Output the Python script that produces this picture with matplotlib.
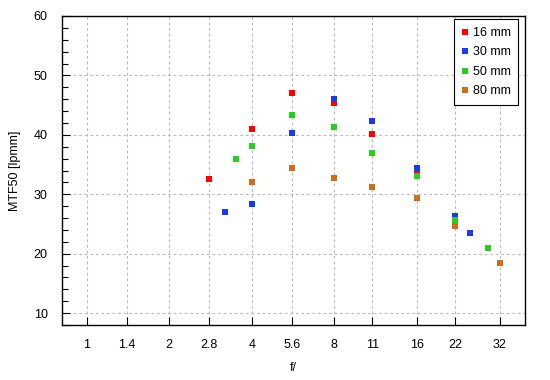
import numpy as np
import matplotlib.pyplot as plt
from matplotlib.ticker import FixedLocator, MultipleLocator, NullLocator

plt.rcParams['font.family'] = ['Liberation Sans', 'DejaVu Sans']

# aperture (f-number) and MTF50 values per focal length
f_16 = [2.8, 4, 5.6, 8, 11, 16]
mtf_16 = [32.5, 40.9, 47.0, 45.3, 40.1, 33.7]

f_30 = [3.2, 4, 5.6, 8, 11, 16, 22, 25]
mtf_30 = [27.1, 28.3, 40.3, 46.0, 42.3, 34.5, 26.3, 23.4]

f_50 = [3.5, 4, 5.6, 8, 11, 16, 22, 29]
mtf_50 = [36.0, 38.2, 43.3, 41.3, 36.9, 33.0, 25.7, 20.9]

f_80 = [4, 5.6, 8, 11, 16, 22, 32]
mtf_80 = [32.0, 34.4, 32.7, 31.3, 29.3, 24.6, 18.5]

tick_vals = [1, 1.4, 2, 2.8, 4, 5.6, 8, 11, 16, 22, 32]
tick_labels = ['1', '1.4', '2', '2.8', '4', '5.6', '8', '11', '16', '22', '32']

series = [
    (f_16, mtf_16, '#ff0000', '16 mm'),
    (f_30, mtf_30, '#1a3ce6', '30 mm'),
    (f_50, mtf_50, '#29cc1f', '50 mm'),
    (f_80, mtf_80, '#cc6e1f', '80 mm'),
]

fig = plt.figure(figsize=(5.5, 3.8), dpi=100)
ax = fig.add_axes([61.5 / 550, 1 - 325 / 380, (525 - 61.5) / 550, (325 - 16) / 380])

for fx, my, col, lab in series:
    ax.plot(fx, my, 's', color=col, markersize=5, markeredgewidth=0, label=lab, zorder=3)

ax.set_xscale('log', base=2)
ax.set_xlim(0.81, 39.6)
ax.set_ylim(8, 60)
ax.xaxis.set_major_locator(FixedLocator(tick_vals))
ax.set_xticklabels(tick_labels)
ax.xaxis.set_minor_locator(NullLocator())
ax.yaxis.set_major_locator(FixedLocator([10, 20, 30, 40, 50, 60]))
ax.yaxis.set_minor_locator(MultipleLocator(2))

ax.tick_params(axis='both', which='both', direction='in', labelsize=9, colors='black')
ax.tick_params(axis='both', which='major', length=6, width=0.8, pad=10)
ax.tick_params(axis='y', which='minor', length=4, width=0.8)
ax.tick_params(axis='y', which='major', pad=10)

ax.grid(True, which='major', linestyle=(0, (2.5, 2.5)), color='#bbbbbb', linewidth=0.8)
ax.set_axisbelow(True)
for s in ax.spines.values():
    s.set_linewidth(1.0)

ax.set_xlabel('f/', fontsize=9, labelpad=8)
ax.set_ylabel('MTF50 [lpmm]', fontsize=9, labelpad=9)

leg = ax.legend(loc='upper right', fontsize=9, frameon=True, fancybox=False,
                edgecolor='black', framealpha=1, handlelength=0.6,
                handletextpad=0.3, borderpad=0.6, labelspacing=0.6,
                borderaxespad=0, bbox_to_anchor=(0.985, 0.989))
leg.get_frame().set_linewidth(0.8)

plt.savefig('out.png', dpi=100)
